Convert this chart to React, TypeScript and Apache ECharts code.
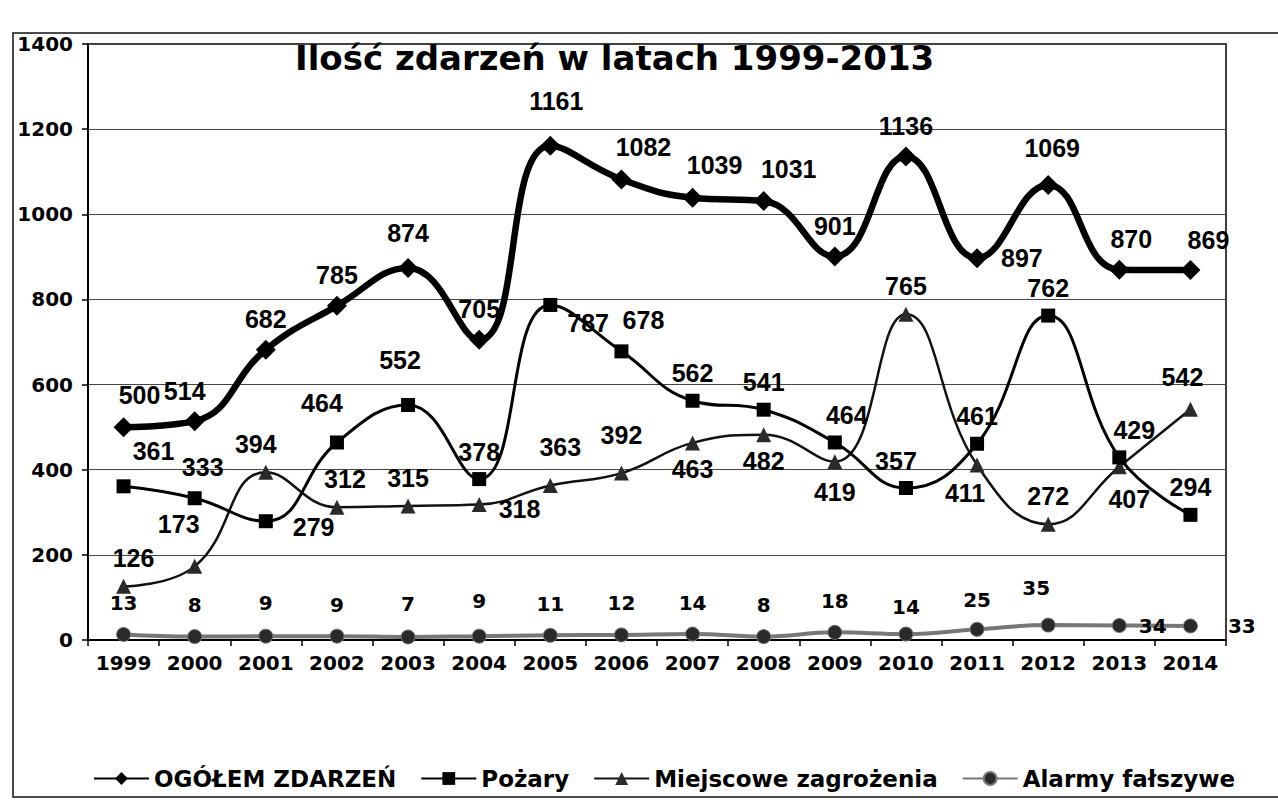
import React, { useEffect, useRef } from "react";
import * as echarts from "echarts";

const years = ["1999", "2000", "2001", "2002", "2003", "2004", "2005", "2006", "2007", "2008", "2009", "2010", "2011", "2012", "2013", "2014"];
const ogolem = [500, 514, 682, 785, 874, 705, 1161, 1082, 1039, 1031, 901, 1136, 897, 1069, 870, 869];
const pozary = [361, 333, 279, 464, 552, 378, 787, 678, 562, 541, 464, 357, 461, 762, 429, 294];
const miejscowe = [126, 173, 394, 312, 315, 318, 363, 392, 463, 482, 419, 765, 411, 272, 407, 542];
const alarmy = [13, 8, 9, 9, 7, 9, 11, 12, 14, 8, 18, 14, 25, 35, 34, 33];
const seriesNames = ["OGÓŁEM ZDARZEŃ", "Pożary", "Miejscowe zagrożenia", "Alarmy fałszywe"];
const titleText = "Ilość zdarzeń w latach 1999-2013";

type Place = [string, number, number];

function withLabels(values: number[], places: Place[]) {
  return values.map((v, i) => {
    const p = places[i] || ["top", 0, 0];
    return { value: v, label: { position: p[0], offset: [p[1], p[2]] } };
  });
}

const T: Place = ["top", 0, 0];

export default function App() {
  const ref = useRef<HTMLDivElement>(null);
  useEffect(() => {
    if (!ref.current) return;
    const chart = echarts.init(ref.current, undefined, { renderer: "svg" });

    const ogolemPlaces: Place[] = [
      ["top", 16, -2], ["top", -10, 0], T, T, ["top", 0, -4], T, ["top", 6, -14], ["top", 22, -2],
      ["top", 22, -2], ["top", 25, -2], T, T, ["right", 6, 0], ["top", 4, -6], ["top", 12, 0], ["top", 18, 0],
    ];
    const pozaryPlaces: Place[] = [
      ["top", 30, -8], ["top", 8, -4], ["right", 12, 6], ["top", -15, -12], ["top", -8, -18], T,
      ["right", 2, 18], ["top", 22, -4], T, T, ["top", 12, 0], ["top", -10, 0], T, T, ["top", 15, 0], T,
    ];
    const miejscowePlaces: Place[] = [
      ["top", 10, 0], ["top", -16, -14], ["top", -10, 0], ["top", 8, 0], T, ["right", 4, 4],
      ["top", 10, -10], ["top", 0, -10], ["bottom", 0, -2], ["bottom", 0, -2], ["bottom", 0, 2], T, ["bottom", -12, 0], T, ["bottom", 10, 4], ["top", -8, -4],
    ];
    const alarmyPlaces: Place[] = [
      ["top", 0, -6], ["top", 0, -6], ["top", 0, -8], ["top", 0, -6], ["top", 0, -8], ["top", 0, -10],
      ["top", 0, -6], ["top", 0, -6], ["top", 0, -6], ["top", 0, -6], ["top", 0, -6], ["top", 0, -2],
      ["top", 0, -4], ["top", -12, -12], ["right", 4, 0], ["right", 22, 0],
    ];

    const numLabel = {
      show: true,
      color: "#000",
      fontFamily: "Liberation Sans, Arial, sans-serif",
      fontWeight: "bold" as const,
      fontSize: 25,
      distance: 8,
    };

    chart.setOption({
      animation: false,
      backgroundColor: "#fff",
      title: {
        text: titleText,
        left: 290,
        top: 36,
        textStyle: { fontFamily: "DejaVu Sans", fontWeight: "bold", fontSize: 34, color: "#000" },
      },
      graphic: [
        {
          type: "rect",
          shape: { x: 13, y: 33, width: 1300, height: 764 },
          style: { fill: "none", stroke: "#111", lineWidth: 1.5 },
          silent: true,
          z: -1,
        },
      ],
      legend: {
        left: 88,
        top: 762,
        itemWidth: 55,
        itemHeight: 16,
        itemGap: 24,
        textStyle: { fontFamily: "DejaVu Sans", fontWeight: "bold", fontSize: 23, color: "#000" },
        data: seriesNames,
      },
      grid: {
        left: 88,
        right: 52,
        top: 44,
        bottom: 163,
        show: true,
        borderColor: "#000",
        borderWidth: 1.5,
        backgroundColor: "transparent",
      },
      xAxis: {
        type: "category",
        data: years,
        boundaryGap: true,
        axisLine: { lineStyle: { color: "#000", width: 2 } },
        axisTick: { show: true, length: 6, lineStyle: { color: "#000", width: 1.5 } },
        axisLabel: {
          color: "#000",
          fontFamily: "DejaVu Sans",
          fontWeight: "bold",
          fontSize: 20,
          margin: 13,
          interval: 0,
        },
        splitLine: { show: false },
      },
      yAxis: {
        type: "value",
        min: 0,
        max: 1400,
        interval: 200,
        axisLine: { show: true, lineStyle: { color: "#000", width: 2 } },
        axisTick: { show: true, length: 6, lineStyle: { color: "#000", width: 1.5 } },
        axisLabel: {
          color: "#000",
          fontFamily: "DejaVu Sans",
          fontWeight: "bold",
          fontSize: 20,
          margin: 15,
          formatter: (v: number) => String(v),
        },
        splitLine: { show: true, lineStyle: { color: "#444", width: 1 } },
      },
      series: [
        {
          name: seriesNames[3],
          type: "line",
          smooth: 0.45,
          data: withLabels(alarmy, alarmyPlaces),
          symbol: "circle",
          symbolSize: 14,
          lineStyle: { color: "#777", width: 4 },
          itemStyle: { color: "#2a2a2a", borderColor: "#777", borderWidth: 1 },
          label: { ...numLabel, fontFamily: "DejaVu Sans", fontSize: 20 },
          z: 2,
        },
        {
          name: seriesNames[2],
          type: "line",
          smooth: 0.45,
          data: withLabels(miejscowe, miejscowePlaces),
          symbol: "triangle",
          symbolSize: 15,
          lineStyle: { color: "#111", width: 2.5 },
          itemStyle: { color: "#2a2a2a" },
          label: numLabel,
          z: 3,
        },
        {
          name: seriesNames[1],
          type: "line",
          smooth: 0.45,
          data: withLabels(pozary, pozaryPlaces),
          symbol: "rect",
          symbolSize: 14,
          lineStyle: { color: "#000", width: 3 },
          itemStyle: { color: "#000" },
          label: numLabel,
          z: 4,
        },
        {
          name: seriesNames[0],
          type: "line",
          smooth: 0.45,
          data: withLabels(ogolem, ogolemPlaces),
          symbol: "diamond",
          symbolSize: 20,
          lineStyle: { color: "#000", width: 6.5 },
          itemStyle: { color: "#000" },
          label: numLabel,
          z: 5,
        },
      ],
    });
    return () => chart.dispose();
  }, []);
  return <div ref={ref} style={{ position: "fixed", left: 0, top: 0, width: 1278, height: 803 }} />;
}
